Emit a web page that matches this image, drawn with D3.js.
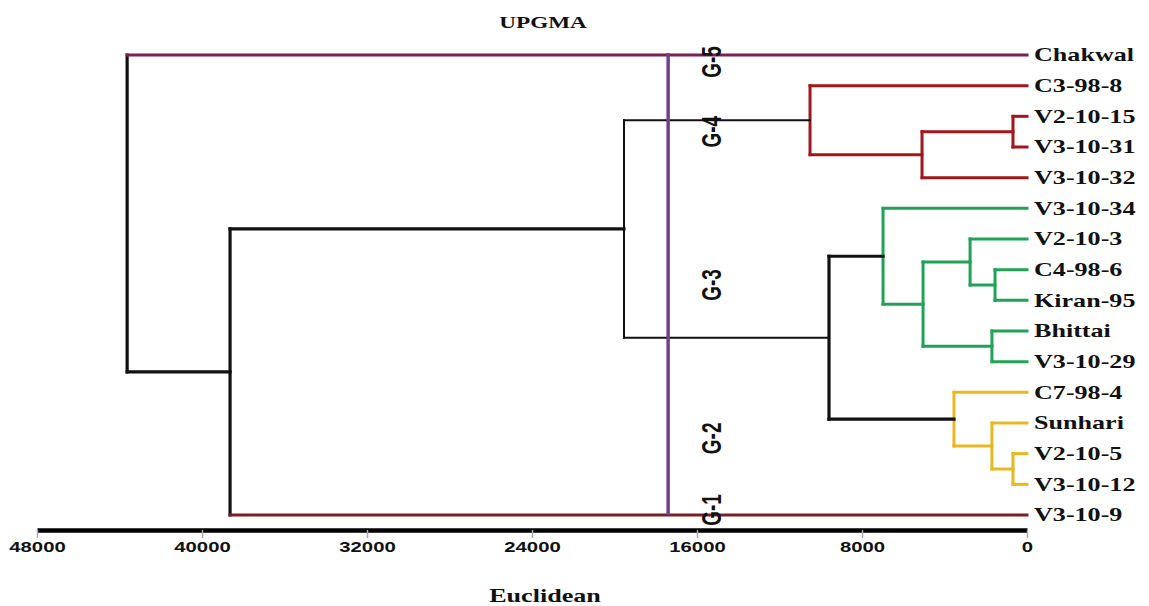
<!DOCTYPE html>
<html>
<head>
<meta charset="utf-8">
<script src="https://cdn.jsdelivr.net/npm/d3@7"></script>
<style>
  html, body { margin: 0; padding: 0; background: #fff; }
  svg { display: block; }
</style>
</head>
<body>
<svg id="chart" width="1149" height="606"></svg>
<script>
// ---------------- DATA ----------------
const leaves = ["Chakwal", "C3-98-8", "V2-10-15", "V3-10-31", "V3-10-32",
  "V3-10-34", "V2-10-3", "C4-98-6", "Kiran-95", "Bhittai", "V3-10-29",
  "C7-98-4", "Sunhari", "V2-10-5", "V3-10-12", "V3-10-9"];
const leafGroup = ["G-5", "G-4", "G-4", "G-4", "G-4",
  "G-3", "G-3", "G-3", "G-3", "G-3", "G-3",
  "G-2", "G-2", "G-2", "G-2", "G-1"];
// merges: [childA, childB, Euclidean distance]; ids < 16 are leaves, id 16+k is merge k
const merges = [
  [2, 3, 680],       // 16
  [16, 4, 5090],     // 17
  [1, 17, 10520],    // 18  (G-4)
  [7, 8, 1550],      // 19
  [6, 19, 2760],     // 20
  [9, 10, 1700],     // 21
  [20, 21, 5040],    // 22
  [5, 22, 6980],     // 23  (G-3)
  [13, 14, 680],     // 24
  [12, 24, 1700],    // 25
  [11, 25, 3540],    // 26  (G-2)
  [23, 26, 9600],    // 27
  [18, 27, 19540],   // 28
  [28, 15, 38640],   // 29
  [0, 29, 43630]     // 30
];
const groups = ["G-5", "G-4", "G-3", "G-2", "G-1"];
const tickValues = [48000, 40000, 32000, 24000, 16000, 8000, 0];
const cutDistance = 17400;
const groupLabelDistance = 15300;
const title = "UPGMA";
const xTitle = "Euclidean";

// ---------------- STYLE ----------------
const groupColor = {"G-5": "#7e1f55", "G-4": "#a3161c", "G-3": "#20a257",
  "G-2": "#e9b820", "G-1": "#7a1f26"};
const cutColor = "#74408c";
const sx = 1.45; // horizontal stretch of the reference's text

const svg = d3.select("#chart");
const x = d3.scaleLinear().domain([48000, 0]).range([37, 1027]);
const y = d3.scalePoint().domain(leaves).range([55, 515]);

// build nodes
const nodes = leaves.map((name, i) => ({
  id: i, leaf: true, name, h: 0, y: y(name),
  leafIdx: [i]
}));
merges.forEach(([a, b, h], k) => {
  const A = nodes[a], B = nodes[b];
  nodes.push({id: 16 + k, leaf: false, h, children: [A, B],
    y: (A.y + B.y) / 2, leafIdx: A.leafIdx.concat(B.leafIdx)});
});
nodes.forEach(n => {
  const gs = new Set(n.leafIdx.map(i => leafGroup[i]));
  n.group = gs.size === 1 ? [...gs][0] : null;
});

const linkG = svg.append("g").attr("fill", "none").attr("stroke-linecap", "square");

nodes.filter(n => !n.leaf).forEach(p => {
  const black = p.id === 28 ? 2 : 3.2;
  const vColor = p.group ? groupColor[p.group] : "#111";
  const [A, B] = p.children;
  linkG.append("line")
    .attr("x1", x(p.h)).attr("x2", x(p.h))
    .attr("y1", A.y).attr("y2", B.y)
    .attr("stroke", vColor).attr("stroke-width", p.group ? 3 : black);
  p.children.forEach(c => {
    const colored = p.group || c.leaf;
    linkG.append("line")
      .attr("x1", x(p.h)).attr("x2", x(c.h))
      .attr("y1", c.y).attr("y2", c.y)
      .attr("stroke", colored ? groupColor[c.group] : "#111")
      .attr("stroke-width", colored ? 3 : black);
  });
});

// cut line
svg.append("line")
  .attr("x1", x(cutDistance)).attr("x2", x(cutDistance))
  .attr("y1", y(leaves[0]) - 2).attr("y2", y(leaves[leaves.length - 1]))
  .attr("stroke", cutColor).attr("stroke-width", 3.5);

// leaf labels
svg.append("g").selectAll("text").data(leaves).join("text")
  .attr("transform", d => `translate(${x(0) + 7},${y(d)}) scale(${sx},1)`)
  .attr("dy", "0.36em")
  .attr("font-family", "'Liberation Serif', 'Times New Roman', serif")
  .attr("font-weight", "bold").attr("font-size", 18)
  .attr("fill", "#111")
  .text(d => d);

// group labels
svg.append("g").selectAll("text").data(groups).join("text")
  .attr("transform", g => {
    const ys = leaves.filter((l, i) => leafGroup[i] === g).map(l => y(l));
    const cy = d3.mean(ys) + (g === "G-5" ? 7 : 0) - (g === "G-1" ? 5 : 0);
    return `translate(${x(groupLabelDistance)},${cy}) scale(${sx},1) rotate(-90)`;
  })
  .attr("text-anchor", "middle").attr("dy", "0.36em")
  .attr("font-family", "'Liberation Sans', Arial, sans-serif")
  .attr("font-weight", "bold").attr("font-size", 19)
  .attr("fill", "#111")
  .text(d => d);

// axis
const axis = d3.axisBottom(x).tickValues(tickValues).tickFormat(d3.format("d"))
  .tickSize(8).tickSizeOuter(0).tickPadding(4);
const ag = svg.append("g").attr("transform", "translate(0,530)").call(axis);
ag.select(".domain").attr("stroke", "#000").attr("stroke-width", 4.5);
ag.selectAll(".tick line").attr("stroke", "#aaa").attr("stroke-width", 1.5);
ag.selectAll(".tick text")
  .attr("font-family", "'Liberation Sans', Arial, sans-serif")
  .attr("font-weight", "bold").attr("font-size", 14).attr("fill", "#111")
  .attr("transform", `scale(${sx},1)`);

// titles
svg.append("text")
  .attr("transform", `translate(543,28) scale(${sx},1)`)
  .attr("text-anchor", "middle")
  .attr("font-family", "'Liberation Serif', 'Times New Roman', serif")
  .attr("font-weight", "bold").attr("font-size", 16).attr("fill", "#111")
  .text(title);
svg.append("text")
  .attr("transform", `translate(545,602) scale(${sx},1)`)
  .attr("text-anchor", "middle")
  .attr("font-family", "'Liberation Serif', 'Times New Roman', serif")
  .attr("font-weight", "bold").attr("font-size", 18).attr("fill", "#111")
  .text(xTitle);
</script>
</body>
</html>
